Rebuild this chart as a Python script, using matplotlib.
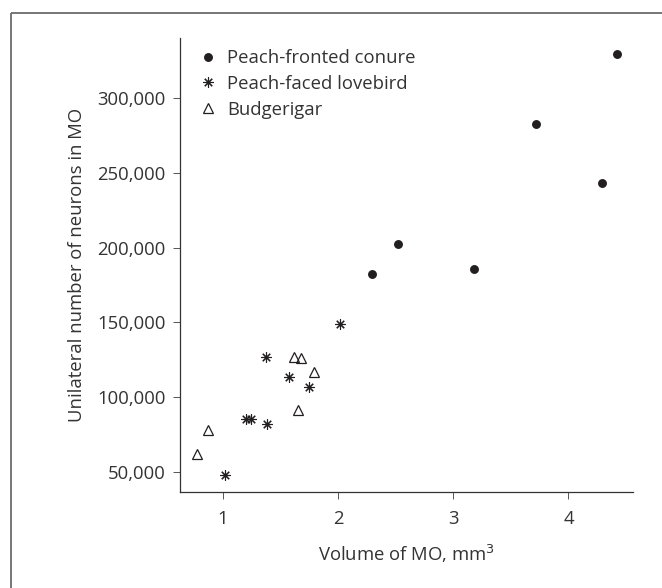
import matplotlib
matplotlib.use("Agg")
import matplotlib.pyplot as plt
from matplotlib.lines import Line2D
from matplotlib.ticker import FuncFormatter

plt.rcParams['font.family'] = ['Open Sans', 'DejaVu Sans']

# Data
conure_x = [4.42, 3.72, 4.29, 2.52, 2.30, 3.18]
conure_y = [329800, 282900, 243400, 202500, 182400, 186000]
lovebird_x = [2.015, 1.377, 1.573, 1.752, 1.203, 1.247, 1.386, 1.02]
lovebird_y = [148700, 126900, 113500, 106800, 85400, 85000, 81600, 48000]
budgie_x = [1.616, 1.683, 1.79, 1.65, 0.874, 0.774]
budgie_y = [126900, 125800, 116500, 91200, 77800, 62000]
x_ticks = [1, 2, 3, 4]
y_ticks = [50000, 100000, 150000, 200000, 250000, 300000]
series_labels = ['Peach-fronted conure', 'Peach-faced lovebird', 'Budgerigar']

TXT = '#333333'
MK = '#231f20'
FS = 13.3
W, H = 662, 588

fig = plt.figure(figsize=(W / 100, H / 100), dpi=100)
# outer frame (only left and top visible)
fig.add_artist(Line2D([10.5 / W, 10.5 / W], [0, 1 - 12.5 / H], transform=fig.transFigure,
                      color='#6b6b6b', lw=1.3, solid_capstyle='butt'))
fig.add_artist(Line2D([10.5 / W, 1], [1 - 12.5 / H, 1 - 12.5 / H], transform=fig.transFigure,
                      color='#6b6b6b', lw=1.3, solid_capstyle='butt'))

ax = fig.add_axes([179.5 / W, 1 - 492 / H, (633 - 179.5) / W, (492 - 38) / H])
ax.plot(conure_x, conure_y, 'o', color=MK, ms=5.4, ls='none', label=series_labels[0])
ax.plot(lovebird_x, lovebird_y, marker=(8, 2, 0), color=MK, ms=7.5, mew=0.8, ls='none',
        label=series_labels[1])
ax.plot(budgie_x, budgie_y, '^', mfc='none', mec=MK, ms=7.8, mew=0.9, ls='none',
        label=series_labels[2])

ax.set_xlim(0.626, 4.56)
ax.set_ylim(36300, 340500)
ax.set_xticks(x_ticks)
ax.set_yticks(y_ticks)
ax.yaxis.set_major_formatter(FuncFormatter(lambda v, p: f'{int(v):,}'))
for s in ['top', 'right']:
    ax.spines[s].set_visible(False)
for s in ['left', 'bottom']:
    ax.spines[s].set_color('#333333')
    ax.spines[s].set_linewidth(0.9)
ax.tick_params(direction='out', length=5, width=0.7, color='#555555',
               labelsize=FS, labelcolor=TXT)
ax.tick_params(axis='y', pad=5)
ax.tick_params(axis='x', pad=8)
ax.set_xlabel('Volume of MO, mm$^3$', fontsize=FS, color=TXT, labelpad=11)
ax.set_ylabel('Unilateral number of neurons in MO', fontsize=FS, color=TXT, labelpad=8)

leg = ax.legend(loc='upper left', bbox_to_anchor=(196.5 / W, 1 - 49 / H),
                bbox_transform=fig.transFigure, frameon=False,
                fontsize=FS, handlelength=1.2, handletextpad=0.45, labelspacing=0.42,
                borderaxespad=0, borderpad=0)
for t in leg.get_texts():
    t.set_color(TXT)

fig.savefig('out.png', dpi=100)
